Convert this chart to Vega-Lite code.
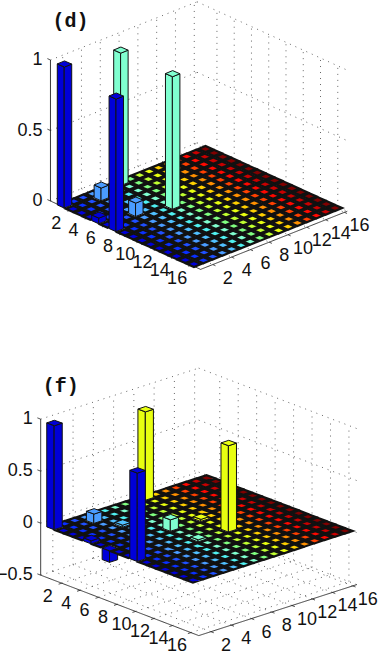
{"$schema":"https://vega.github.io/schema/vega-lite/v6.json","width":382,"height":654,"padding":0,"autosize":{"type":"none"},"background":"white","config":{"view":{"stroke":null}},
"datasets":{"frame":[
{"p":"d","ks":["wr","wc","fr","fc","tr","tc"],"ts":[2,4,6,8,10,12,14,16],"es":[0,1]},
{"p":"d","ks":["hr","hc","tz"],"ts":[0,0.5,1],"es":[0,1]},
{"p":"d","ks":["ar","ac","az"],"ts":[0],"es":[0,1]},
{"p":"f","ks":["wr","wc","fr","fc","tr","tc"],"ts":[2,4,6,8,10,12,14,16],"es":[0,1]},
{"p":"f","ks":["hr","hc","tz"],"ts":[-0.5,0,0.5,1],"es":[0,1]},
{"p":"f","ks":["ar","ac","az"],"ts":[0],"es":[0,1]}],
"labels":[
{"p":"d","ks":["r","c"],"ts":[2,4,6,8,10,12,14,16]},
{"p":"d","ks":["z"],"ts":[0,0.5,1]},
{"p":"d","ks":["title"],"ts":[1.28],"txt":"(d)"},
{"p":"f","ks":["r","c"],"ts":[2,4,6,8,10,12,14,16]},
{"p":"f","ks":["z"],"ts":[-0.5,0,0.5,1]},
{"p":"f","ks":["title"],"ts":[1.32],"txt":"(f)"}],
"bars":[
{"p":"d","r":1,"c":16,"z":0},{"p":"d","r":1,"c":15,"z":0},{"p":"d","r":1,"c":14,"z":0},{"p":"d","r":1,"c":13,"z":0},{"p":"d","r":1,"c":12,"z":0},{"p":"d","r":1,"c":11,"z":0},{"p":"d","r":1,"c":10,"z":0},{"p":"d","r":1,"c":9,"z":0},{"p":"d","r":1,"c":8,"z":0},{"p":"d","r":1,"c":7,"z":0.94},{"p":"d","r":1,"c":6,"z":0},{"p":"d","r":1,"c":5,"z":0},{"p":"d","r":1,"c":4,"z":0},{"p":"d","r":1,"c":3,"z":0},{"p":"d","r":1,"c":2,"z":0},{"p":"d","r":1,"c":1,"z":1},
{"p":"d","r":2,"c":16,"z":0},{"p":"d","r":2,"c":15,"z":0},{"p":"d","r":2,"c":14,"z":0},{"p":"d","r":2,"c":13,"z":0},{"p":"d","r":2,"c":12,"z":0},{"p":"d","r":2,"c":11,"z":0},{"p":"d","r":2,"c":10,"z":0},{"p":"d","r":2,"c":9,"z":0},{"p":"d","r":2,"c":8,"z":0},{"p":"d","r":2,"c":7,"z":0},{"p":"d","r":2,"c":6,"z":0},{"p":"d","r":2,"c":5,"z":0},{"p":"d","r":2,"c":4,"z":0.09},{"p":"d","r":2,"c":3,"z":0},{"p":"d","r":2,"c":2,"z":0},{"p":"d","r":2,"c":1,"z":0},
{"p":"d","r":3,"c":16,"z":0},{"p":"d","r":3,"c":15,"z":0},{"p":"d","r":3,"c":14,"z":0},{"p":"d","r":3,"c":13,"z":0},{"p":"d","r":3,"c":12,"z":0},{"p":"d","r":3,"c":11,"z":0},{"p":"d","r":3,"c":10,"z":0},{"p":"d","r":3,"c":9,"z":0},{"p":"d","r":3,"c":8,"z":0},{"p":"d","r":3,"c":7,"z":0},{"p":"d","r":3,"c":6,"z":0},{"p":"d","r":3,"c":5,"z":0},{"p":"d","r":3,"c":4,"z":0},{"p":"d","r":3,"c":3,"z":0},{"p":"d","r":3,"c":2,"z":0},{"p":"d","r":3,"c":1,"z":0},
{"p":"d","r":4,"c":16,"z":0},{"p":"d","r":4,"c":15,"z":0},{"p":"d","r":4,"c":14,"z":0},{"p":"d","r":4,"c":13,"z":0},{"p":"d","r":4,"c":12,"z":0},{"p":"d","r":4,"c":11,"z":0},{"p":"d","r":4,"c":10,"z":0},{"p":"d","r":4,"c":9,"z":0},{"p":"d","r":4,"c":8,"z":0},{"p":"d","r":4,"c":7,"z":0},{"p":"d","r":4,"c":6,"z":0},{"p":"d","r":4,"c":5,"z":0},{"p":"d","r":4,"c":4,"z":0},{"p":"d","r":4,"c":3,"z":0},{"p":"d","r":4,"c":2,"z":0},{"p":"d","r":4,"c":1,"z":0},
{"p":"d","r":5,"c":16,"z":0},{"p":"d","r":5,"c":15,"z":0},{"p":"d","r":5,"c":14,"z":0},{"p":"d","r":5,"c":13,"z":0},{"p":"d","r":5,"c":12,"z":0},{"p":"d","r":5,"c":11,"z":0},{"p":"d","r":5,"c":10,"z":0},{"p":"d","r":5,"c":9,"z":0},{"p":"d","r":5,"c":8,"z":0},{"p":"d","r":5,"c":7,"z":0},{"p":"d","r":5,"c":6,"z":0},{"p":"d","r":5,"c":5,"z":0},{"p":"d","r":5,"c":4,"z":0},{"p":"d","r":5,"c":3,"z":0},{"p":"d","r":5,"c":2,"z":0},{"p":"d","r":5,"c":1,"z":0.04},
{"p":"d","r":6,"c":16,"z":0},{"p":"d","r":6,"c":15,"z":0},{"p":"d","r":6,"c":14,"z":0},{"p":"d","r":6,"c":13,"z":0},{"p":"d","r":6,"c":12,"z":0},{"p":"d","r":6,"c":11,"z":0},{"p":"d","r":6,"c":10,"z":0},{"p":"d","r":6,"c":9,"z":0},{"p":"d","r":6,"c":8,"z":0},{"p":"d","r":6,"c":7,"z":0},{"p":"d","r":6,"c":6,"z":0},{"p":"d","r":6,"c":5,"z":0},{"p":"d","r":6,"c":4,"z":0.095},{"p":"d","r":6,"c":3,"z":0},{"p":"d","r":6,"c":2,"z":0},{"p":"d","r":6,"c":1,"z":0},
{"p":"d","r":7,"c":16,"z":0},{"p":"d","r":7,"c":15,"z":0},{"p":"d","r":7,"c":14,"z":0},{"p":"d","r":7,"c":13,"z":0},{"p":"d","r":7,"c":12,"z":0},{"p":"d","r":7,"c":11,"z":0},{"p":"d","r":7,"c":10,"z":0},{"p":"d","r":7,"c":9,"z":0},{"p":"d","r":7,"c":8,"z":0},{"p":"d","r":7,"c":7,"z":0.94},{"p":"d","r":7,"c":6,"z":0},{"p":"d","r":7,"c":5,"z":0},{"p":"d","r":7,"c":4,"z":0},{"p":"d","r":7,"c":3,"z":0},{"p":"d","r":7,"c":2,"z":0},{"p":"d","r":7,"c":1,"z":0.94},
{"p":"d","r":8,"c":16,"z":0},{"p":"d","r":8,"c":15,"z":0},{"p":"d","r":8,"c":14,"z":0},{"p":"d","r":8,"c":13,"z":0},{"p":"d","r":8,"c":12,"z":0},{"p":"d","r":8,"c":11,"z":0},{"p":"d","r":8,"c":10,"z":0},{"p":"d","r":8,"c":9,"z":0},{"p":"d","r":8,"c":8,"z":0},{"p":"d","r":8,"c":7,"z":0},{"p":"d","r":8,"c":6,"z":0},{"p":"d","r":8,"c":5,"z":0},{"p":"d","r":8,"c":4,"z":0},{"p":"d","r":8,"c":3,"z":0},{"p":"d","r":8,"c":2,"z":0},{"p":"d","r":8,"c":1,"z":0},
{"p":"d","r":9,"c":16,"z":0},{"p":"d","r":9,"c":15,"z":0},{"p":"d","r":9,"c":14,"z":0},{"p":"d","r":9,"c":13,"z":0},{"p":"d","r":9,"c":12,"z":0},{"p":"d","r":9,"c":11,"z":0},{"p":"d","r":9,"c":10,"z":0},{"p":"d","r":9,"c":9,"z":0},{"p":"d","r":9,"c":8,"z":0},{"p":"d","r":9,"c":7,"z":0},{"p":"d","r":9,"c":6,"z":0},{"p":"d","r":9,"c":5,"z":0},{"p":"d","r":9,"c":4,"z":0},{"p":"d","r":9,"c":3,"z":0},{"p":"d","r":9,"c":2,"z":0},{"p":"d","r":9,"c":1,"z":0},
{"p":"d","r":10,"c":16,"z":0},{"p":"d","r":10,"c":15,"z":0},{"p":"d","r":10,"c":14,"z":0},{"p":"d","r":10,"c":13,"z":0},{"p":"d","r":10,"c":12,"z":0},{"p":"d","r":10,"c":11,"z":0},{"p":"d","r":10,"c":10,"z":0},{"p":"d","r":10,"c":9,"z":0},{"p":"d","r":10,"c":8,"z":0},{"p":"d","r":10,"c":7,"z":0},{"p":"d","r":10,"c":6,"z":0},{"p":"d","r":10,"c":5,"z":0},{"p":"d","r":10,"c":4,"z":0},{"p":"d","r":10,"c":3,"z":0},{"p":"d","r":10,"c":2,"z":0},{"p":"d","r":10,"c":1,"z":0},
{"p":"d","r":11,"c":16,"z":0},{"p":"d","r":11,"c":15,"z":0},{"p":"d","r":11,"c":14,"z":0},{"p":"d","r":11,"c":13,"z":0},{"p":"d","r":11,"c":12,"z":0},{"p":"d","r":11,"c":11,"z":0},{"p":"d","r":11,"c":10,"z":0},{"p":"d","r":11,"c":9,"z":0},{"p":"d","r":11,"c":8,"z":0},{"p":"d","r":11,"c":7,"z":0},{"p":"d","r":11,"c":6,"z":0},{"p":"d","r":11,"c":5,"z":0},{"p":"d","r":11,"c":4,"z":0},{"p":"d","r":11,"c":3,"z":0},{"p":"d","r":11,"c":2,"z":0},{"p":"d","r":11,"c":1,"z":0},
{"p":"d","r":12,"c":16,"z":0},{"p":"d","r":12,"c":15,"z":0},{"p":"d","r":12,"c":14,"z":0},{"p":"d","r":12,"c":13,"z":0},{"p":"d","r":12,"c":12,"z":0},{"p":"d","r":12,"c":11,"z":0},{"p":"d","r":12,"c":10,"z":0},{"p":"d","r":12,"c":9,"z":0},{"p":"d","r":12,"c":8,"z":0},{"p":"d","r":12,"c":7,"z":0},{"p":"d","r":12,"c":6,"z":0},{"p":"d","r":12,"c":5,"z":0},{"p":"d","r":12,"c":4,"z":0},{"p":"d","r":12,"c":3,"z":0},{"p":"d","r":12,"c":2,"z":0},{"p":"d","r":12,"c":1,"z":0},
{"p":"d","r":13,"c":16,"z":0},{"p":"d","r":13,"c":15,"z":0},{"p":"d","r":13,"c":14,"z":0},{"p":"d","r":13,"c":13,"z":0},{"p":"d","r":13,"c":12,"z":0},{"p":"d","r":13,"c":11,"z":0},{"p":"d","r":13,"c":10,"z":0},{"p":"d","r":13,"c":9,"z":0},{"p":"d","r":13,"c":8,"z":0},{"p":"d","r":13,"c":7,"z":0},{"p":"d","r":13,"c":6,"z":0},{"p":"d","r":13,"c":5,"z":0},{"p":"d","r":13,"c":4,"z":0},{"p":"d","r":13,"c":3,"z":0},{"p":"d","r":13,"c":2,"z":0},{"p":"d","r":13,"c":1,"z":0},
{"p":"d","r":14,"c":16,"z":0},{"p":"d","r":14,"c":15,"z":0},{"p":"d","r":14,"c":14,"z":0},{"p":"d","r":14,"c":13,"z":0},{"p":"d","r":14,"c":12,"z":0},{"p":"d","r":14,"c":11,"z":0},{"p":"d","r":14,"c":10,"z":0},{"p":"d","r":14,"c":9,"z":0},{"p":"d","r":14,"c":8,"z":0},{"p":"d","r":14,"c":7,"z":0},{"p":"d","r":14,"c":6,"z":0},{"p":"d","r":14,"c":5,"z":0},{"p":"d","r":14,"c":4,"z":0},{"p":"d","r":14,"c":3,"z":0},{"p":"d","r":14,"c":2,"z":0},{"p":"d","r":14,"c":1,"z":0},
{"p":"d","r":15,"c":16,"z":0},{"p":"d","r":15,"c":15,"z":0},{"p":"d","r":15,"c":14,"z":0},{"p":"d","r":15,"c":13,"z":0},{"p":"d","r":15,"c":12,"z":0},{"p":"d","r":15,"c":11,"z":0},{"p":"d","r":15,"c":10,"z":0},{"p":"d","r":15,"c":9,"z":0},{"p":"d","r":15,"c":8,"z":0},{"p":"d","r":15,"c":7,"z":0},{"p":"d","r":15,"c":6,"z":0},{"p":"d","r":15,"c":5,"z":0},{"p":"d","r":15,"c":4,"z":0},{"p":"d","r":15,"c":3,"z":0},{"p":"d","r":15,"c":2,"z":0},{"p":"d","r":15,"c":1,"z":0},
{"p":"d","r":16,"c":16,"z":0},{"p":"d","r":16,"c":15,"z":0},{"p":"d","r":16,"c":14,"z":0},{"p":"d","r":16,"c":13,"z":0},{"p":"d","r":16,"c":12,"z":0},{"p":"d","r":16,"c":11,"z":0},{"p":"d","r":16,"c":10,"z":0},{"p":"d","r":16,"c":9,"z":0},{"p":"d","r":16,"c":8,"z":0},{"p":"d","r":16,"c":7,"z":0},{"p":"d","r":16,"c":6,"z":0},{"p":"d","r":16,"c":5,"z":0},{"p":"d","r":16,"c":4,"z":0},{"p":"d","r":16,"c":3,"z":0},{"p":"d","r":16,"c":2,"z":0},{"p":"d","r":16,"c":1,"z":0},
{"p":"f","r":1,"c":16,"z":0},{"p":"f","r":1,"c":15,"z":0},{"p":"f","r":1,"c":14,"z":0},{"p":"f","r":1,"c":13,"z":0},{"p":"f","r":1,"c":12,"z":0},{"p":"f","r":1,"c":11,"z":0},{"p":"f","r":1,"c":10,"z":0.85},{"p":"f","r":1,"c":9,"z":0},{"p":"f","r":1,"c":8,"z":0},{"p":"f","r":1,"c":7,"z":0},{"p":"f","r":1,"c":6,"z":0},{"p":"f","r":1,"c":5,"z":0},{"p":"f","r":1,"c":4,"z":0},{"p":"f","r":1,"c":3,"z":0},{"p":"f","r":1,"c":2,"z":0},{"p":"f","r":1,"c":1,"z":1},
{"p":"f","r":2,"c":16,"z":0},{"p":"f","r":2,"c":15,"z":0},{"p":"f","r":2,"c":14,"z":0},{"p":"f","r":2,"c":13,"z":0},{"p":"f","r":2,"c":12,"z":0},{"p":"f","r":2,"c":11,"z":0},{"p":"f","r":2,"c":10,"z":0},{"p":"f","r":2,"c":9,"z":0},{"p":"f","r":2,"c":8,"z":0},{"p":"f","r":2,"c":7,"z":0},{"p":"f","r":2,"c":6,"z":0},{"p":"f","r":2,"c":5,"z":0},{"p":"f","r":2,"c":4,"z":0.09},{"p":"f","r":2,"c":3,"z":0},{"p":"f","r":2,"c":2,"z":0},{"p":"f","r":2,"c":1,"z":0},
{"p":"f","r":3,"c":16,"z":0},{"p":"f","r":3,"c":15,"z":0},{"p":"f","r":3,"c":14,"z":0},{"p":"f","r":3,"c":13,"z":0},{"p":"f","r":3,"c":12,"z":0},{"p":"f","r":3,"c":11,"z":0},{"p":"f","r":3,"c":10,"z":0},{"p":"f","r":3,"c":9,"z":0},{"p":"f","r":3,"c":8,"z":0},{"p":"f","r":3,"c":7,"z":0},{"p":"f","r":3,"c":6,"z":0},{"p":"f","r":3,"c":5,"z":0},{"p":"f","r":3,"c":4,"z":0},{"p":"f","r":3,"c":3,"z":0},{"p":"f","r":3,"c":2,"z":0},{"p":"f","r":3,"c":1,"z":0},
{"p":"f","r":4,"c":16,"z":0},{"p":"f","r":4,"c":15,"z":0},{"p":"f","r":4,"c":14,"z":0},{"p":"f","r":4,"c":13,"z":0},{"p":"f","r":4,"c":12,"z":0},{"p":"f","r":4,"c":11,"z":0},{"p":"f","r":4,"c":10,"z":0},{"p":"f","r":4,"c":9,"z":0},{"p":"f","r":4,"c":8,"z":0},{"p":"f","r":4,"c":7,"z":0},{"p":"f","r":4,"c":6,"z":0},{"p":"f","r":4,"c":5,"z":0.02},{"p":"f","r":4,"c":4,"z":0},{"p":"f","r":4,"c":3,"z":0},{"p":"f","r":4,"c":2,"z":0},{"p":"f","r":4,"c":1,"z":0},
{"p":"f","r":5,"c":16,"z":0},{"p":"f","r":5,"c":15,"z":0},{"p":"f","r":5,"c":14,"z":0},{"p":"f","r":5,"c":13,"z":0},{"p":"f","r":5,"c":12,"z":0},{"p":"f","r":5,"c":11,"z":0},{"p":"f","r":5,"c":10,"z":0},{"p":"f","r":5,"c":9,"z":0},{"p":"f","r":5,"c":8,"z":0},{"p":"f","r":5,"c":7,"z":0},{"p":"f","r":5,"c":6,"z":0},{"p":"f","r":5,"c":5,"z":0},{"p":"f","r":5,"c":4,"z":0},{"p":"f","r":5,"c":3,"z":0},{"p":"f","r":5,"c":2,"z":0},{"p":"f","r":5,"c":1,"z":0.03},
{"p":"f","r":6,"c":16,"z":0},{"p":"f","r":6,"c":15,"z":0},{"p":"f","r":6,"c":14,"z":0},{"p":"f","r":6,"c":13,"z":0},{"p":"f","r":6,"c":12,"z":0},{"p":"f","r":6,"c":11,"z":0},{"p":"f","r":6,"c":10,"z":0},{"p":"f","r":6,"c":9,"z":0},{"p":"f","r":6,"c":8,"z":0},{"p":"f","r":6,"c":7,"z":0},{"p":"f","r":6,"c":6,"z":0},{"p":"f","r":6,"c":5,"z":0},{"p":"f","r":6,"c":4,"z":0},{"p":"f","r":6,"c":3,"z":0},{"p":"f","r":6,"c":2,"z":0},{"p":"f","r":6,"c":1,"z":0},
{"p":"f","r":7,"c":16,"z":0},{"p":"f","r":7,"c":15,"z":0},{"p":"f","r":7,"c":14,"z":0},{"p":"f","r":7,"c":13,"z":0},{"p":"f","r":7,"c":12,"z":0},{"p":"f","r":7,"c":11,"z":0},{"p":"f","r":7,"c":10,"z":0.02},{"p":"f","r":7,"c":9,"z":0},{"p":"f","r":7,"c":8,"z":0},{"p":"f","r":7,"c":7,"z":0.11},{"p":"f","r":7,"c":6,"z":0},{"p":"f","r":7,"c":5,"z":0},{"p":"f","r":7,"c":4,"z":0},{"p":"f","r":7,"c":3,"z":0},{"p":"f","r":7,"c":2,"z":0},{"p":"f","r":7,"c":1,"z":-0.11},
{"p":"f","r":8,"c":16,"z":0},{"p":"f","r":8,"c":15,"z":0},{"p":"f","r":8,"c":14,"z":0},{"p":"f","r":8,"c":13,"z":0},{"p":"f","r":8,"c":12,"z":0},{"p":"f","r":8,"c":11,"z":0},{"p":"f","r":8,"c":10,"z":0},{"p":"f","r":8,"c":9,"z":0},{"p":"f","r":8,"c":8,"z":0},{"p":"f","r":8,"c":7,"z":0},{"p":"f","r":8,"c":6,"z":0},{"p":"f","r":8,"c":5,"z":0},{"p":"f","r":8,"c":4,"z":0},{"p":"f","r":8,"c":3,"z":0},{"p":"f","r":8,"c":2,"z":0},{"p":"f","r":8,"c":1,"z":0},
{"p":"f","r":9,"c":16,"z":0},{"p":"f","r":9,"c":15,"z":0},{"p":"f","r":9,"c":14,"z":0},{"p":"f","r":9,"c":13,"z":0},{"p":"f","r":9,"c":12,"z":0},{"p":"f","r":9,"c":11,"z":0},{"p":"f","r":9,"c":10,"z":0},{"p":"f","r":9,"c":9,"z":0},{"p":"f","r":9,"c":8,"z":0},{"p":"f","r":9,"c":7,"z":0},{"p":"f","r":9,"c":6,"z":0},{"p":"f","r":9,"c":5,"z":0},{"p":"f","r":9,"c":4,"z":0},{"p":"f","r":9,"c":3,"z":0},{"p":"f","r":9,"c":2,"z":0},{"p":"f","r":9,"c":1,"z":0},
{"p":"f","r":10,"c":16,"z":0},{"p":"f","r":10,"c":15,"z":0},{"p":"f","r":10,"c":14,"z":0},{"p":"f","r":10,"c":13,"z":0},{"p":"f","r":10,"c":12,"z":0},{"p":"f","r":10,"c":11,"z":0},{"p":"f","r":10,"c":10,"z":0.83},{"p":"f","r":10,"c":9,"z":0},{"p":"f","r":10,"c":8,"z":0},{"p":"f","r":10,"c":7,"z":0.02},{"p":"f","r":10,"c":6,"z":0},{"p":"f","r":10,"c":5,"z":0},{"p":"f","r":10,"c":4,"z":0},{"p":"f","r":10,"c":3,"z":0},{"p":"f","r":10,"c":2,"z":0},{"p":"f","r":10,"c":1,"z":0.85},
{"p":"f","r":11,"c":16,"z":0},{"p":"f","r":11,"c":15,"z":0},{"p":"f","r":11,"c":14,"z":0},{"p":"f","r":11,"c":13,"z":0},{"p":"f","r":11,"c":12,"z":0},{"p":"f","r":11,"c":11,"z":0},{"p":"f","r":11,"c":10,"z":0},{"p":"f","r":11,"c":9,"z":0},{"p":"f","r":11,"c":8,"z":0},{"p":"f","r":11,"c":7,"z":0},{"p":"f","r":11,"c":6,"z":0},{"p":"f","r":11,"c":5,"z":0},{"p":"f","r":11,"c":4,"z":0},{"p":"f","r":11,"c":3,"z":0},{"p":"f","r":11,"c":2,"z":0},{"p":"f","r":11,"c":1,"z":0},
{"p":"f","r":12,"c":16,"z":0},{"p":"f","r":12,"c":15,"z":0},{"p":"f","r":12,"c":14,"z":0},{"p":"f","r":12,"c":13,"z":0},{"p":"f","r":12,"c":12,"z":0},{"p":"f","r":12,"c":11,"z":0},{"p":"f","r":12,"c":10,"z":0},{"p":"f","r":12,"c":9,"z":0},{"p":"f","r":12,"c":8,"z":0},{"p":"f","r":12,"c":7,"z":0},{"p":"f","r":12,"c":6,"z":0},{"p":"f","r":12,"c":5,"z":0},{"p":"f","r":12,"c":4,"z":0},{"p":"f","r":12,"c":3,"z":0},{"p":"f","r":12,"c":2,"z":0},{"p":"f","r":12,"c":1,"z":0},
{"p":"f","r":13,"c":16,"z":0},{"p":"f","r":13,"c":15,"z":0},{"p":"f","r":13,"c":14,"z":0},{"p":"f","r":13,"c":13,"z":0},{"p":"f","r":13,"c":12,"z":0},{"p":"f","r":13,"c":11,"z":0},{"p":"f","r":13,"c":10,"z":0},{"p":"f","r":13,"c":9,"z":0},{"p":"f","r":13,"c":8,"z":0},{"p":"f","r":13,"c":7,"z":0},{"p":"f","r":13,"c":6,"z":0},{"p":"f","r":13,"c":5,"z":0},{"p":"f","r":13,"c":4,"z":0},{"p":"f","r":13,"c":3,"z":0},{"p":"f","r":13,"c":2,"z":0},{"p":"f","r":13,"c":1,"z":0},
{"p":"f","r":14,"c":16,"z":0},{"p":"f","r":14,"c":15,"z":0},{"p":"f","r":14,"c":14,"z":0},{"p":"f","r":14,"c":13,"z":0},{"p":"f","r":14,"c":12,"z":0},{"p":"f","r":14,"c":11,"z":0},{"p":"f","r":14,"c":10,"z":0},{"p":"f","r":14,"c":9,"z":0},{"p":"f","r":14,"c":8,"z":0},{"p":"f","r":14,"c":7,"z":0},{"p":"f","r":14,"c":6,"z":0},{"p":"f","r":14,"c":5,"z":0},{"p":"f","r":14,"c":4,"z":0},{"p":"f","r":14,"c":3,"z":0},{"p":"f","r":14,"c":2,"z":0},{"p":"f","r":14,"c":1,"z":0},
{"p":"f","r":15,"c":16,"z":0},{"p":"f","r":15,"c":15,"z":0},{"p":"f","r":15,"c":14,"z":0},{"p":"f","r":15,"c":13,"z":0},{"p":"f","r":15,"c":12,"z":0},{"p":"f","r":15,"c":11,"z":0},{"p":"f","r":15,"c":10,"z":0},{"p":"f","r":15,"c":9,"z":0},{"p":"f","r":15,"c":8,"z":0},{"p":"f","r":15,"c":7,"z":0},{"p":"f","r":15,"c":6,"z":0},{"p":"f","r":15,"c":5,"z":0},{"p":"f","r":15,"c":4,"z":0},{"p":"f","r":15,"c":3,"z":0},{"p":"f","r":15,"c":2,"z":0},{"p":"f","r":15,"c":1,"z":0},
{"p":"f","r":16,"c":16,"z":0},{"p":"f","r":16,"c":15,"z":0},{"p":"f","r":16,"c":14,"z":0},{"p":"f","r":16,"c":13,"z":0},{"p":"f","r":16,"c":12,"z":0},{"p":"f","r":16,"c":11,"z":0},{"p":"f","r":16,"c":10,"z":0},{"p":"f","r":16,"c":9,"z":0},{"p":"f","r":16,"c":8,"z":0},{"p":"f","r":16,"c":7,"z":0},{"p":"f","r":16,"c":6,"z":0},{"p":"f","r":16,"c":5,"z":0},{"p":"f","r":16,"c":4,"z":0},{"p":"f","r":16,"c":3,"z":0},{"p":"f","r":16,"c":2,"z":0},{"p":"f","r":16,"c":1,"z":0}
]},
"layer":[
{"data":{"name":"frame"},"transform":[
{"flatten":["ks"],"as":["k"]},{"flatten":["ts"],"as":["t"]},{"flatten":["es"],"as":["e"]},
{"calculate":"datum.p=='d'?64.5:54.5","as":"x0"},{"calculate":"datum.p=='d'?205:527","as":"y0"},{"calculate":"datum.p=='d'?8.63:9.23","as":"ax"},{"calculate":"datum.p=='d'?3.93:3.53","as":"ay"},{"calculate":"datum.p=='d'?9.4:10.13","as":"bx"},{"calculate":"datum.p=='d'?-3.73:-3.27","as":"by"},{"calculate":"datum.p=='d'?141:104","as":"zs"},
{"calculate":"datum.p=='d'?-0.3:-0.28","as":"r0"},{"calculate":"datum.p=='d'?17.1:16.85","as":"r1"},{"calculate":"datum.p=='d'?0.7:0.8","as":"c0"},{"calculate":"datum.p=='d'?16.3:16.4","as":"c1"},{"calculate":"datum.p=='d'?0:-0.5","as":"zmin"},
{"calculate":"datum.k=='wr'||datum.k=='hr'||datum.k=='az'?datum.r0:datum.k=='wc'||datum.k=='fr'||datum.k=='tr'?datum.t:datum.k=='ac'?datum.r1:datum.k=='tz'?datum.r0-0.35*datum.e:datum.k=='tc'?datum.r1+0.3*datum.e:datum.r0+(datum.r1-datum.r0)*datum.e","as":"r"},
{"calculate":"datum.k=='wr'||datum.k=='fc'||datum.k=='tc'?datum.t:datum.k=='wc'||datum.k=='hc'?datum.c1:datum.k=='ar'||datum.k=='tz'||datum.k=='az'?datum.c0:datum.k=='tr'?datum.c0-0.3*datum.e:datum.c0+(datum.c1-datum.c0)*datum.e","as":"c"},
{"calculate":"datum.k=='wr'||datum.k=='wc'||datum.k=='az'?datum.zmin+(1-datum.zmin)*datum.e:datum.k=='hr'||datum.k=='hc'||datum.k=='tz'?datum.t:datum.zmin","as":"zv"},
{"calculate":"datum.x0+(datum.r-1)*datum.ax+(datum.c-1)*datum.bx","as":"px"},
{"calculate":"datum.y0+(datum.r-1)*datum.ay+(datum.c-1)*datum.by-datum.zs*datum.zv","as":"py"},
{"calculate":"datum.p+'_'+datum.k+'_'+datum.t","as":"seg"},
{"calculate":"indexof(['wr','wc','hr','hc','fr','fc'],datum.k)>=0?'dot':'solid'","as":"sty"}],
"mark":{"type":"line","strokeWidth":0.9,"clip":false},
"encoding":{"x":{"field":"px","type":"quantitative","scale":{"domain":[0,382],"nice":false,"zero":false},"axis":null},
"y":{"field":"py","type":"quantitative","scale":{"domain":[0,654],"reverse":true,"nice":false,"zero":false},"axis":null},
"detail":{"field":"seg"},
"strokeDash":{"field":"sty","type":"nominal","scale":{"domain":["dot","solid"],"range":[[1,5],[1,0]]},"legend":null},
"color":{"field":"sty","type":"nominal","scale":{"domain":["dot","solid"],"range":["#555555","#222222"]},"legend":null}}},
{"data":{"name":"bars"},"transform":[
{"calculate":"[0,1,2]","as":"ks"},{"flatten":["ks"],"as":["k"]},{"filter":"datum.k==2||datum.z!=0"},
{"calculate":"[0,1,2]","as":"vs"},{"flatten":["vs"],"as":["v"]},{"filter":"!(datum.k==0&&datum.v==2)&&!(datum.k==1&&datum.v==0)"},
{"calculate":"datum.p=='d'?64.5:54.5","as":"x0"},{"calculate":"datum.p=='d'?205:527","as":"y0"},{"calculate":"datum.p=='d'?8.63:9.23","as":"ax"},{"calculate":"datum.p=='d'?3.93:3.53","as":"ay"},{"calculate":"datum.p=='d'?9.4:10.13","as":"bx"},{"calculate":"datum.p=='d'?-3.73:-3.27","as":"by"},{"calculate":"datum.p=='d'?141:104","as":"zs"},
{"calculate":"datum.v==0?-0.4:(datum.k==2&&datum.v==1?0:0.4)","as":"dr"},
{"calculate":"datum.v==2?0.4:(datum.k==2&&datum.v==1?0:-0.4)","as":"dc"},
{"calculate":"datum.x0+(datum.r-1+datum.dr)*datum.ax+(datum.c-1+datum.dc)*datum.bx","as":"px"},
{"calculate":"datum.y0+(datum.r-1+datum.dr)*datum.ay+(datum.c-1+datum.dc)*datum.by","as":"yb"},
{"calculate":"0.4*(datum.ay-datum.by)","as":"hd"},
{"calculate":"datum.yb-datum.zs*max(datum.z,0)-(datum.k==2&&datum.v==1?datum.hd:0)","as":"py"},
{"calculate":"datum.k==2?datum.yb-datum.zs*max(datum.z,0)+(datum.v==1?datum.hd:0):datum.yb-datum.zs*min(datum.z,0)","as":"py2"},
{"calculate":"datum.p+'_'+datum.r+'_'+datum.c+'_'+datum.k","as":"poly"}],
"mark":{"type":"area","orient":"vertical","stroke":"#111111","interpolate":"linear","clip":false},
"encoding":{"x":{"field":"px","type":"quantitative","scale":{"domain":[0,382],"nice":false,"zero":false},"axis":null},
"y":{"field":"py","type":"quantitative","stack":null,"scale":{"domain":[0,654],"reverse":true,"nice":false,"zero":false},"axis":null},
"y2":{"field":"py2"},
"detail":{"field":"poly"},
"strokeWidth":{"condition":{"test":"datum.z==0","value":2.2},"value":1},
"fill":{"field":"c","type":"ordinal","scale":{"domain":[1,2,3,4,5,6,7,8,9,10,11,12,13,14,15,16],"range":["#0000d8","#0a30ff","#2050ff","#4a9cff","#50c0ff","#50f0f0","#80ffd0","#80ff80","#c0ff30","#e8ff10","#ffd000","#ff9000","#ff4000","#ff0800","#c80000","#800000"]},"legend":null}}},
{"data":{"name":"labels"},"transform":[
{"flatten":["ks"],"as":["k"]},{"flatten":["ts"],"as":["t"]},
{"calculate":"datum.p=='d'?64.5:54.5","as":"x0"},{"calculate":"datum.p=='d'?205:527","as":"y0"},{"calculate":"datum.p=='d'?8.63:9.23","as":"ax"},{"calculate":"datum.p=='d'?3.93:3.53","as":"ay"},{"calculate":"datum.p=='d'?9.4:10.13","as":"bx"},{"calculate":"datum.p=='d'?-3.73:-3.27","as":"by"},{"calculate":"datum.p=='d'?141:104","as":"zs"},
{"calculate":"datum.p=='d'?-0.3:-0.28","as":"r0"},{"calculate":"datum.p=='d'?17.1:16.85","as":"r1"},{"calculate":"datum.p=='d'?0.7:0.8","as":"c0"},{"calculate":"datum.p=='d'?0:-0.5","as":"zmin"},
{"calculate":"datum.k=='r'?datum.t:datum.k=='c'?datum.r1:datum.r0","as":"r"},
{"calculate":"datum.k=='c'?datum.t:datum.c0","as":"c"},
{"calculate":"datum.k=='z'||datum.k=='title'?datum.t:datum.zmin","as":"zv"},
{"calculate":"datum.x0+(datum.r-1)*datum.ax+(datum.c-1)*datum.bx","as":"px"},
{"calculate":"datum.y0+(datum.r-1)*datum.ay+(datum.c-1)*datum.by-datum.zs*datum.zv","as":"py"}],
"encoding":{"x":{"field":"px","type":"quantitative","scale":{"domain":[0,382],"nice":false,"zero":false},"axis":null},
"y":{"field":"py","type":"quantitative","scale":{"domain":[0,654],"reverse":true,"nice":false,"zero":false},"axis":null}},
"layer":[
{"transform":[{"filter":"datum.k=='r'"}],"mark":{"type":"text","font":"Liberation Sans Narrow, Liberation Sans","fontSize":18,"dx":-14,"dy":13.5,"baseline":"middle","fill":"#111111"},"encoding":{"text":{"field":"t","type":"quantitative"}}},
{"transform":[{"filter":"datum.k=='c'"}],"mark":{"type":"text","font":"Liberation Sans Narrow, Liberation Sans","fontSize":18,"dx":15,"dy":14,"baseline":"middle","fill":"#111111"},"encoding":{"text":{"field":"t","type":"quantitative"}}},
{"transform":[{"filter":"datum.k=='z'"}],"mark":{"type":"text","font":"Liberation Sans Narrow, Liberation Sans","fontSize":18,"dx":-8,"align":"right","baseline":"middle","fill":"#111111"},"encoding":{"text":{"field":"t","type":"quantitative"}}},
{"transform":[{"filter":"datum.k=='title'"}],"mark":{"type":"text","font":"Liberation Mono","fontWeight":"bold","fontSize":20,"dx":20,"baseline":"middle","fill":"#111111"},"encoding":{"text":{"field":"txt","type":"nominal"}}}
]}
]}
